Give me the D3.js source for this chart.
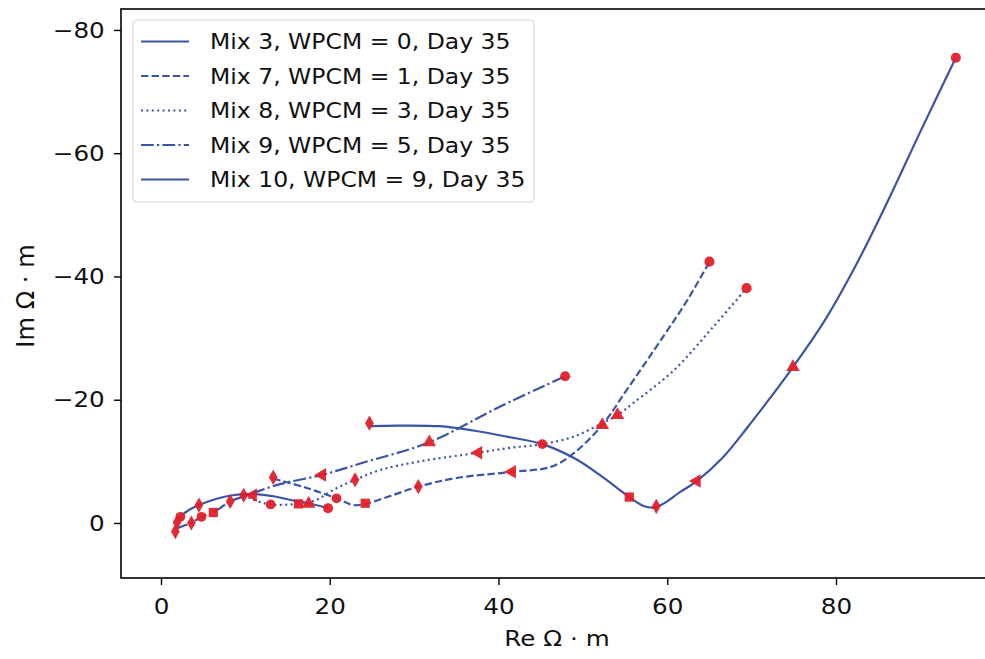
<!DOCTYPE html>
<html>
<head>
<meta charset="utf-8">
<script src="https://d3js.org/d3.v7.min.js"></script>
<style>
  body { margin:0; background:#fff; }
  text { font-family: "DejaVu Sans", sans-serif; }
</style>
</head>
<body>
<script>
// series names (legend order)
var seriesNames = ["Mix 3, WPCM = 0, Day 35", "Mix 7, WPCM = 1, Day 35", "Mix 8, WPCM = 3, Day 35",
                   "Mix 9, WPCM = 5, Day 35", "Mix 10, WPCM = 9, Day 35"];
var dashes = [null, "7.4,3.2", "2,3.4", "12.8,3.2,2.2,3.2", null];

// measured points (Re, Im) with marker shapes
var mix3Pts = [[1.9,-0.1],[2.3,-1.0],[4.5,-2.9],[10.9,-4.5],[17.5,-3.1],[19.8,-2.4]];
var mix3Sym = ["d","p","d","<","^","o"];
var mix7Pts = [[13.3,-7.4],[20.8,-4.0],[24.2,-3.2],[30.5,-5.9],[41.6,-8.3],[52.3,-15.9],[65.0,-42.4]];
var mix7Sym = ["d","p","s","d","<","^","o"];
var mix8Pts = [[9.8,-4.5],[13.0,-3.0],[16.3,-3.1],[23.0,-7.0],[37.6,-11.4],[54.1,-17.5],[69.4,-38.1]];
var mix8Sym = ["d","p","s","d","<","^","o"];
var mix9Pts = [[1.7,1.4],[3.6,0.0],[4.8,-1.0],[6.2,-1.7],[8.2,-3.5],[19.1,-7.8],[31.8,-13.1],[47.9,-23.8]];
var mix9Sym = ["d","d","p","s","d","<","^","o"];
var mix10Pts = [[24.7,-16.2],[45.2,-12.8],[55.5,-4.2],[58.7,-2.7],[63.5,-6.8],[74.9,-25.3],[94.2,-75.5]];
var mix10Sym = ["d","p","s","d","<","^","o"];

// fitted curves
var mix3Curve = [[1.9,0.3],[2.3,-1.0],[3.2,-2.0],[4.5,-2.9],[6.5,-3.9],[8.5,-4.5],[10.9,-4.7],[13.5,-4.3],[15.8,-3.6],[17.5,-3.2],[19.8,-2.4]];
var mix7Curve = [[13.3,-7.2],[17.0,-5.8],[20.8,-4.0],[22.8,-2.9],[24.2,-3.1],[27.0,-4.3],[30.5,-5.9],[35.0,-7.3],[41.6,-8.3],[46.2,-9.1],[48.9,-11.3],[52.3,-15.9],[55.2,-21.6],[59.6,-30.4],[62.4,-36.2],[65.0,-42.4]];
var mix8Curve = [[9.8,-4.5],[11.5,-3.5],[13.0,-3.0],[16.3,-3.1],[18.2,-3.6],[20.6,-5.5],[23.0,-7.0],[26.0,-8.6],[30.7,-10.0],[37.6,-11.4],[41.4,-12.2],[45.2,-12.8],[48.9,-14.0],[52.0,-16.0],[54.1,-17.5],[56.0,-19.5],[60.8,-24.8],[65.5,-31.9],[69.4,-38.1]];
var mix9Curve = [[1.7,1.0],[2.6,0.5],[3.6,0.0],[4.8,-1.0],[6.2,-1.7],[8.2,-3.5],[10.0,-4.4],[14.1,-6.3],[19.1,-7.8],[24.0,-9.8],[31.8,-13.1],[40.2,-18.9],[47.9,-23.8]];
var mix10Curve = [[24.8,-15.7],[28.0,-15.8],[33.0,-15.7],[37.0,-15.0],[41.0,-14.0],[45.2,-12.8],[49.0,-10.5],[52.0,-7.8],[55.5,-4.2],[57.3,-2.7],[58.4,-2.5],[59.5,-3.1],[61.5,-5.0],[63.5,-6.8],[66.5,-10.5],[69.5,-15.5],[72.2,-20.3],[74.9,-25.3],[78.5,-32.5],[82.5,-42.2],[86.2,-52.4],[90.0,-63.5],[94.2,-75.5]];

var xTicks = [0, 20, 40, 60, 80];
var yTicks = [-80, -60, -40, -20, 0];

var allPts = [mix3Pts, mix7Pts, mix8Pts, mix9Pts, mix10Pts];
var allSym = [mix3Sym, mix7Sym, mix8Sym, mix9Sym, mix10Sym];
var allCurves = [mix3Curve, mix7Curve, mix8Curve, mix9Curve, mix10Curve];

var lineColor = "#3a55a6";
var markColor = "#e2202a";
var stretch = 1.12;   // the picture is a bit wider than tall

var W = 985, H = 659;
var pLeft = 121, pRight = 990, pTop = 9, pBottom = 578;

var svg = d3.select("body").append("svg")
  .attr("width", W).attr("height", H);

var x = d3.scaleLinear().domain([-4.74, 98.25]).range([pLeft, pRight]);
var y = d3.scaleLinear().domain([8.93, -83.4]).range([pBottom, pTop]);

svg.append("clipPath").attr("id", "clip")
  .append("rect").attr("x", pLeft).attr("y", pTop)
  .attr("width", pRight - pLeft).attr("height", pBottom - pTop);

var line = d3.line()
  .x(function(d) { return x(d[0]); })
  .y(function(d) { return y(d[1]); })
  .curve(d3.curveCatmullRom.alpha(0.5));

var plot = svg.append("g").attr("clip-path", "url(#clip)");

// curves
allCurves.forEach(function(c, i) {
  plot.append("path")
    .attr("d", line(c))
    .attr("fill", "none")
    .attr("stroke", lineColor)
    .attr("stroke-width", 2.2)
    .attr("stroke-dasharray", dashes[i]);
});

function symbolPath(s) {
  var t;
  if (s == "d") t = d3.symbol(d3.symbolDiamond, 66);
  else if (s == "s") t = d3.symbol(d3.symbolSquare, 85);
  else if (s == "<" || s == "^") t = d3.symbol(d3.symbolTriangle, 80);
  else if (s == "p") t = d3.symbol(d3.symbolCircle, 75);
  else t = d3.symbol(d3.symbolCircle, 80);
  return t();
}

// markers
allPts.forEach(function(pts, i) {
  pts.forEach(function(p, j) {
    var s = allSym[i][j];
    var rot = s == "<" ? -90 : 0;
    plot.append("path")
      .attr("d", symbolPath(s))
      .attr("transform", "translate(" + x(p[0]) + "," + y(p[1]) + ") rotate(" + rot + ")")
      .attr("fill", markColor)
      .attr("fill-opacity", 0.95);
  });
});

// axes
var xAxis = svg.append("g")
  .attr("transform", "translate(0," + pBottom + ")")
  .call(d3.axisBottom(x).tickValues(xTicks).tickSize(7).tickPadding(13).tickFormat(d3.format("d")));
var yAxis = svg.append("g")
  .attr("transform", "translate(" + pLeft + ",0)")
  .call(d3.axisLeft(y).tickValues(yTicks).tickSize(7).tickPadding(7.5).tickFormat(d3.format("d")));
[xAxis, yAxis].forEach(function(a) {
  a.select(".domain").remove();
  a.selectAll(".tick line").attr("stroke", "#000").attr("stroke-width", 1.4);
  a.selectAll(".tick text").attr("fill", "#111").style("font-size", "22px")
    .attr("transform", "scale(" + stretch + ",1)");
});

// frame
svg.append("rect")
  .attr("x", pLeft).attr("y", pTop)
  .attr("width", pRight - pLeft).attr("height", pBottom - pTop)
  .attr("fill", "none").attr("stroke", "#000").attr("stroke-width", 1.6);

// axis labels
svg.append("text").attr("transform", "translate(557,646) scale(" + stretch + ",1)")
  .attr("text-anchor", "middle").style("font-size", "22px").attr("fill", "#111")
  .text("Re Ω · m");
svg.append("text").attr("transform", "translate(34,296) rotate(-90) scale(1.1,1.1)")
  .attr("text-anchor", "middle").style("font-size", "22px").attr("fill", "#111")
  .text("Im Ω · m");

// legend
var leg = svg.append("g");
leg.append("rect")
  .attr("x", 133).attr("y", 20).attr("width", 401).attr("height", 182).attr("rx", 4)
  .attr("fill", "#fff").attr("fill-opacity", 0.85)
  .attr("stroke", "#d4d4d4").attr("stroke-width", 1.2);
seriesNames.forEach(function(n, i) {
  var yy = 41.5 + i * 34.5;
  leg.append("line")
    .attr("x1", 141).attr("x2", 189).attr("y1", yy).attr("y2", yy)
    .attr("stroke", lineColor).attr("stroke-width", 2.2)
    .attr("stroke-dasharray", dashes[i]);
  leg.append("text")
    .attr("transform", "translate(210," + yy + ") scale(" + stretch + ",1)")
    .attr("dy", "0.36em")
    .style("font-size", "21px").attr("fill", "#111")
    .text(n);
});
</script>
</body>
</html>
